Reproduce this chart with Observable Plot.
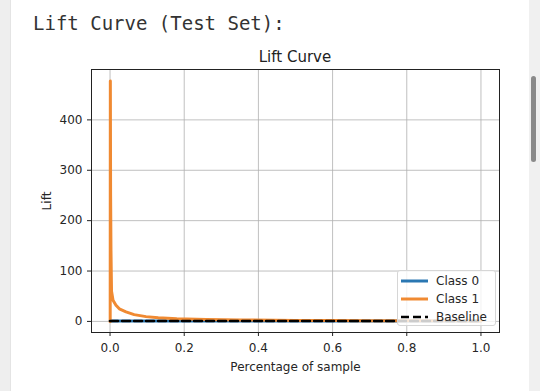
<!DOCTYPE html>
<html>
<head>
<meta charset="utf-8">
<script src="https://cdn.jsdelivr.net/npm/d3@7"></script>
<script src="https://cdn.jsdelivr.net/npm/@observablehq/plot@0.6"></script>
<style>
html,body{margin:0;padding:0;width:540px;height:391px;overflow:hidden;background:#fff;font-family:"DejaVu Sans",sans-serif;}
#leftbar{position:absolute;left:0;top:0;width:10px;height:391px;background:#eeeeee;border-right:1px solid #e4e4e4;}
#track{position:absolute;left:529px;top:0;width:11px;height:391px;background:#f0f0f0;}
#thumb{position:absolute;left:531px;top:76px;width:5px;height:86px;background:#8a8a8a;border-radius:3px;}
#header{position:absolute;left:33px;top:12px;font-family:"DejaVu Sans Mono",monospace;font-size:19px;color:#333;white-space:pre;}
#title{position:absolute;left:91px;width:408px;top:48px;text-align:center;font-size:15px;color:#222;}
#chart{position:absolute;left:0;top:40px;}
#legend{position:absolute;left:397px;top:270px;width:99px;height:56px;box-sizing:border-box;background:rgba(255,255,255,0.8);border:1px solid #d6d6d6;border-radius:3px;font-size:12px;color:#262626;}
.row{position:absolute;left:3px;height:18px;display:flex;align-items:center;}
.row svg{margin-right:8px;}
</style>
</head>
<body>
<div id="leftbar"></div>
<div id="track"></div>
<div id="thumb"></div>
<div id="header">Lift Curve (Test Set):</div>
<div id="title">Lift Curve</div>
<div id="chart"></div>
<div id="legend"></div>
<script>
// ---- data ----
const xTicks = [0, 0.2, 0.4, 0.6, 0.8, 1.0];
const yTicks = [0, 100, 200, 300, 400];

const seriesNames = ["Class 0", "Class 1", "Baseline"];
const seriesColors = ["#2a77b2", "#f08a32", "#000000"];

const pctClass0 = [0.0, 0.002, 0.1, 0.2, 0.4, 0.6, 0.8, 1.0];
const liftClass0 = [1.0, 1.002, 1.002, 1.002, 1.002, 1.001, 1.001, 1.0];

const pctClass1 = [0.0, 0.0004, 0.0008, 0.0015, 0.0025, 0.004, 0.008, 0.016, 0.025, 0.043, 0.065, 0.097, 0.13, 0.18, 0.26, 0.35, 0.5, 0.6, 0.7, 0.8, 0.9, 1.0];
const liftClass1 = [0, 0, 477, 250, 140, 60, 42, 32, 25, 19, 13.5, 9.5, 7.3, 5.4, 3.8, 2.85, 2.0, 1.67, 1.43, 1.25, 1.11, 1.0];

const pctBaseline = [0, 1];
const liftBaseline = [1, 1];

// ---- build tables ----
const class0 = pctClass0.map((x, i) => ({x, y: liftClass0[i]}));
const class1 = pctClass1.map((x, i) => ({x, y: liftClass1[i]}));
const baseline = pctBaseline.map((x, i) => ({x, y: liftBaseline[i]}));

const gridStyle = {stroke: "#b0b0b0", strokeOpacity: 1, strokeWidth: 0.8};

const chart = Plot.plot({
  width: 530,
  height: 351,
  marginLeft: 91,
  marginRight: 31,
  marginTop: 29,
  marginBottom: 59,
  style: {fontFamily: "DejaVu Sans", fontSize: "12px", color: "#262626", background: "transparent"},
  x: {type: "linear", domain: [-0.05, 1.05]},
  y: {type: "linear", domain: [-22, 500]},
  marks: [
    Plot.gridX(xTicks, gridStyle),
    Plot.gridY(yTicks, gridStyle),
    Plot.line(class0, {x: "x", y: "y", stroke: seriesColors[0], strokeWidth: 3}),
    Plot.line(class1, {x: "x", y: "y", stroke: seriesColors[1], strokeWidth: 3}),
    Plot.line(baseline, {x: "x", y: "y", stroke: seriesColors[2], strokeWidth: 2.5, strokeDasharray: "8,4"}),
    Plot.frame({stroke: "#222", strokeWidth: 1}),
    Plot.axisX(xTicks, {tickSize: 4, tickPadding: 7, tickFormat: d3.format(".1f"), label: "Percentage of sample", labelAnchor: "center", labelArrow: "none", labelOffset: 38, stroke: "#222"}),
    Plot.axisY(yTicks, {tickSize: 4, tickPadding: 5, tickFormat: d3.format("d"), label: "Lift", labelAnchor: "center", labelArrow: "none", labelOffset: 49, stroke: "#222"})
  ]
});
document.getElementById("chart").appendChild(chart);

// ---- legend ----
const legend = document.getElementById("legend");
seriesNames.forEach((name, i) => {
  const row = document.createElement("div");
  row.className = "row";
  row.style.top = (1 + i * 18) + "px";
  const dash = i === 2 ? ' stroke-dasharray="8,4"' : '';
  row.innerHTML = `<svg width="27" height="6"><line x1="0" y1="3" x2="27" y2="3" stroke="${seriesColors[i]}" stroke-width="${i === 2 ? 2.5 : 3}"${dash}/></svg><span>${name}</span>`;
  legend.appendChild(row);
});
</script>
</body>
</html>
